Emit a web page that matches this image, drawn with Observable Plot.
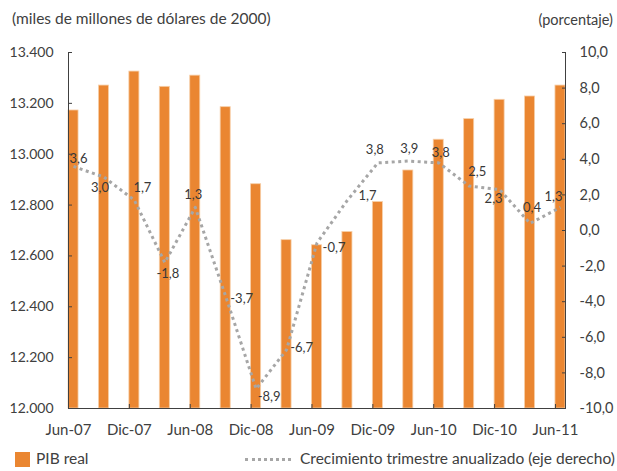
<!DOCTYPE html>
<html>
<head>
<meta charset="utf-8">
<script src="https://cdn.jsdelivr.net/npm/d3@7"></script>
<script src="https://cdn.jsdelivr.net/npm/@observablehq/plot@0.6"></script>
<style>
  body { margin: 0; background: #fff; font-family: Lato, "Open Sans", sans-serif; color: #404040; }
  #wrap { position: relative; width: 617px; height: 471px; overflow: hidden; }
  #head { position: relative; height: 36px; font-size: 15.5px; }
  #head .l { position: absolute; left: 12px; top: 9px; }
  #head .r { position: absolute; right: 4px; top: 11px; font-size: 14.5px; }
  #legend { position: relative; height: 26px; font-size: 15.5px; }
  #legend .box { position: absolute; left: 15px; top: 7px; width: 15px; height: 15px; background: #EA8631; }
  #legend .t1 { position: absolute; left: 36px; top: 4px; }
  #legend .dash { position: absolute; left: 245px; top: 13px; width: 46px; height: 0; border-top: 3px dotted #A6A6A6; }
  #legend .t2 { position: absolute; left: 300px; top: 4px; }
  svg { display: block; }
</style>
</head>
<body>
<div id="wrap">
  <div id="head"><span class="l">(miles de millones de dólares de 2000)</span><span class="r">(porcentaje)</span></div>
  <div id="chart"></div>
  <div id="legend"><span class="box"></span><span class="t1">PIB real</span><span class="dash"></span><span class="t2">Crecimiento trimestre anualizado (eje derecho)</span></div>
</div>
<script>
// Quarters Jun-07 .. Jun-11
const quarters = ["Jun-07","Sep-07","Dic-07","Mar-08","Jun-08","Sep-08","Dic-08","Mar-09","Jun-09","Sep-09","Dic-09","Mar-10","Jun-10","Sep-10","Dic-10","Mar-11","Jun-11"];
// PIB real (miles de millones de dólares de 2000)
const pib = [13172, 13270, 13325, 13265, 13309, 13185, 12882, 12662, 12642, 12694, 12812, 12936, 13057, 13138, 13214, 13227, 13270];
// Crecimiento trimestral anualizado (%)
const growth = [3.6, 3.0, 1.7, -1.8, 1.3, -3.7, -8.9, -6.7, -0.7, 1.7, 3.8, 3.9, 3.8, 2.5, 2.3, 0.4, 1.3];
// Axis tick labels
const xTickLabels = ["Jun-07","Dic-07","Jun-08","Dic-08","Jun-09","Dic-09","Jun-10","Dic-10","Jun-11"];
const leftTicks = [12000, 12200, 12400, 12600, 12800, 13000, 13200, 13400];
const rightTicks = [-10, -8, -6, -4, -2, 0, 2, 4, 6, 8, 10];
// label placement (style only): offsets of growth labels from their points
const labelOffsets = [[5,-8],[-4,11],[8,-12],[3,11],[-2,-13],[16,2],[13,8],[15,-2],[17,5],[20,-4],[-3,-13],[1,-12],[2,-10],[8,-14],[-6,9],[2,-16],[-7,-11]];

const L0 = 12000, L1 = 13400, R0 = -10, R1 = 10;
const toLeft = v => L0 + (v - R0) / (R1 - R0) * (L1 - L0);
const fromLeft = y => R0 + (y - L0) / (L1 - L0) * (R1 - R0);
const barW = 0.33;
const xMax = quarters.length - 1 + barW;

const data = quarters.map((q, i) => ({q, i, pib: pib[i], g: growth[i], gy: toLeft(growth[i]), off: labelOffsets[i]}));
const fmtL = n => String(n).replace(/\B(?=(\d{3})+$)/, ".");
const fmtR = v => (Math.round(v * 10) / 10).toFixed(1).replace(".", ",");
const fmtG = v => v.toFixed(1).replace(".", ",");

const axisColor = "#404040";
const textMarks = data.map(d => Plot.text([d], {
  x: d => d.i + barW / 2, y: "gy", text: d => fmtG(d.g),
  dx: d.off[0], dy: d.off[1], fontSize: 13, fill: "#383838"
}));

const chart = Plot.plot({
  width: 617, height: 409,
  marginTop: 16, marginBottom: 37, marginLeft: 68, marginRight: 52,
  style: {fontFamily: "Lato, 'Open Sans', sans-serif", color: axisColor, background: "white"},
  x: {domain: [0, xMax]},
  y: {domain: [L0, L1]},
  marks: [
    Plot.rectY(data, {x1: "i", x2: d => d.i + barW, y1: L0, y2: "pib", fill: "#EA8631", stroke: "#F7CFA8", strokeWidth: 0.8}),
    Plot.line(data, {x: d => d.i + barW / 2, y: "gy", stroke: "#A6A6A6", strokeWidth: 3, strokeDasharray: "3 3.5", strokeLinecap: "butt"}),
    ...textMarks,
    Plot.ruleY([L0], {stroke: axisColor}),
    Plot.ruleX([0, xMax], {stroke: axisColor}),
    Plot.axisY({anchor: "left", ticks: leftTicks, tickFormat: fmtL, tickSize: -4, tickPadding: 19, fontSize: 14, stroke: axisColor, fill: axisColor}),
    Plot.axisY({anchor: "right", ticks: rightTicks.map(toLeft), tickFormat: y => fmtR(fromLeft(y)), tickSize: -4, tickPadding: 18, fontSize: 14.5, stroke: axisColor, fill: axisColor, label: null}),
    Plot.axisX({ticks: d3.range(0, quarters.length, 2), tickFormat: i => xTickLabels[i / 2], tickSize: -4, tickPadding: 20, fontSize: 15, stroke: axisColor, fill: axisColor, label: null})
  ]
});
document.getElementById("chart").appendChild(chart);
</script>
</body>
</html>
